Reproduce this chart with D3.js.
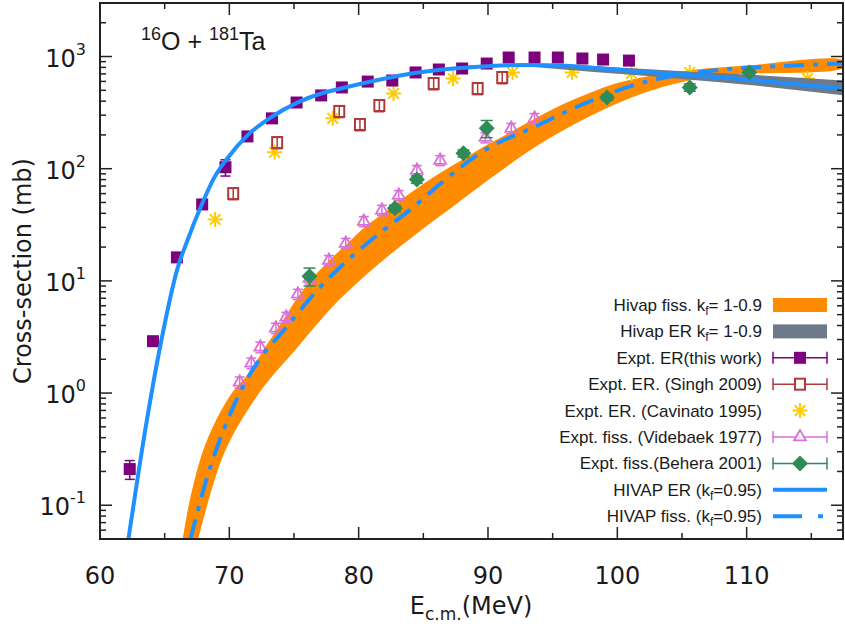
<!DOCTYPE html>
<html lang="en">
<head>
<meta charset="UTF-8">
<title>16O + 181Ta cross-sections</title>
<script src="https://d3js.org/d3.v7.min.js"></script>
<style>
    body, html { margin: 0; padding: 0; background: #fff; }
    text { font-family: "DejaVu Sans", sans-serif; fill: #1a1a1a; }
    .legend text, .title text { font-family: "Liberation Sans", Arial, sans-serif; }
</style>
</head>
<body>
<div id="chart"></div>
<script>

// ---- data (E_cm in MeV, cross-section in mb) ----
const xTicks = [60, 70, 80, 90, 100, 110]
const yTicks = [0.1, 1, 10, 100, 1000]

// Expt. ER (this work)
const erX = [62.3, 64.1, 65.95, 67.9, 69.7, 71.4, 73.3, 75.2, 77.1, 78.7, 80.7, 82.6, 84.4, 86.2, 88.0, 89.9, 91.6, 93.6, 95.4, 97.3, 98.9, 100.9]
const erY = [0.21, 2.9, 16.2, 48, 103, 194, 281, 389, 450, 530, 598, 611, 721, 766, 782, 866, 980, 980, 980, 960, 940, 920]
const erErr = [0.04, 0.2, 1, 3, 17, 10, 12, 15, 15, 18, 20, 20, 25, 25, 25, 30, 35, 35, 35, 35, 35, 35]

// Expt. ER. (Singh 2009)
const singhX = [70.3, 73.7, 78.5, 80.1, 81.6, 85.8, 89.2, 91.1]
const singhY = [60, 171, 324, 248, 366, 575, 519, 650]
const singhErr = [7, 20, 38, 30, 44, 70, 62, 78]

// Expt. ER. (Cavinato 1995)
const cavX = [68.9, 73.5, 78.0, 82.7, 87.3, 91.9, 96.5, 101.1, 105.6, 110.2, 114.7]
const cavY = [35.3, 140, 281, 468, 637, 721, 721, 706, 721, 650, 637]

// Expt. fiss. (Videbaek 1977)
const videX = [70.8, 71.7, 72.4, 73.6, 74.4, 75.3, 76.2, 77.7, 79.0, 80.4, 81.8, 83.1, 84.5, 86.3, 89.8, 91.8, 93.6]
const videY = [1.25, 1.85, 2.56, 3.79, 4.74, 7.6, 10.5, 15.2, 21.6, 33.9, 42.6, 57.8, 96.6, 118.6, 190, 229, 281]
const videErr = [0.14, 0.2, 0.28, 0.4, 0.5, 0.8, 1.1, 1.6, 2.3, 3.5, 4.5, 6, 10, 12, 20, 24, 29]

// Expt. fiss. (Behera 2001)
const behX = [76.2, 82.8, 84.5, 88.1, 89.9, 99.2, 105.6, 110.2]
const behY = [11.0, 44.3, 80, 137, 229, 432, 530, 721]
const behErr = [2.0, 3, 6, 10, 40, 25, 40, 40]

// HIVAP ER (kf = 0.95)
const hivErX = [62.2, 63.5, 64.7, 66.0, 66.7, 68.0, 68.8, 69.9, 71.4, 73.2, 75.3, 77.1, 78.0, 80.6, 83.2, 85.8, 88.4, 91.0, 93.4, 95.6, 97.1, 100.8, 104.9, 110.0, 113.0, 117.5]
const hivErY = [0.05, 0.47, 2.78, 13, 22, 52, 82, 126, 198, 286, 390, 468, 498, 587, 678, 750, 798, 832, 840, 832, 810, 750, 690, 624, 580, 515]

// HIVAP fiss. (kf = 0.95)
const hivFisX = [67.0, 68.3, 69.5, 70.8, 72.6, 74.0, 77.1, 79.6, 82.2, 84.2, 86.1, 89.9, 93.5, 97.1, 102.0, 107.4, 113.6, 117.5]
const hivFisY = [0.05, 0.18, 0.45, 1.0, 2.2, 3.4, 9, 17, 30, 45, 70, 150, 233, 366, 587, 750, 832, 866]

// Hivap ER band kf = 1-0.9
const erBandX = [88, 92, 95.6, 100.8, 105.4, 110, 117.5]
const erBandLo = [790, 825, 770, 690, 625, 560, 450]
const erBandHi = [825, 860, 850, 790, 735, 690, 610]

// Hivap fiss. band kf = 1-0.9 (upper and lower edges)
const fisHiX = [66.4, 66.9, 67.9, 68.8, 70.2, 71.5, 72.7, 74.0, 75.3, 76.5, 77.8, 79.2, 80.6, 81.8, 83.2, 84.6, 86.2, 88.0, 90.0, 92.0, 94.0, 96.0, 98.0, 100.0, 102.5, 105.4, 110.0, 117.5]
const fisHiY = [0.05, 0.105, 0.29, 0.52, 1.0, 1.5, 2.5, 4.2, 7.2, 10.8, 15.5, 22, 31, 39, 52, 68, 90, 120, 165, 220, 295, 385, 480, 580, 670, 750, 832, 920]
const fisLoX = [67.6, 69.6, 72.3, 75.2, 78.4, 81.5, 84.6, 87.2, 90.2, 93.8, 97.8, 102.2, 107.5, 117.5]
const fisLoY = [0.05, 0.29, 1.0, 2.5, 6.6, 14, 27, 45, 82, 160, 290, 480, 670, 798]

const legendLabels = [
    [["Hivap fiss. k", 0], ["f", 1], ["= 1-0.9", 0]],
    [["Hivap ER k", 0], ["f", 1], ["= 1-0.9", 0]],
    [["Expt. ER(this work)", 0]],
    [["Expt. ER. (Singh 2009)", 0]],
    [["Expt. ER. (Cavinato 1995)", 0]],
    [["Expt. fiss. (Videbaek 1977)", 0]],
    [["Expt. fiss.(Behera 2001)", 0]],
    [["HIVAP ER (k", 0], ["f", 1], ["=0.95)", 0]],
    [["HIVAP fiss. (k", 0], ["f", 1], ["=0.95)", 0]]
]

// ---- colours ----
const cOrange = "#ff8c00", cGrey = "#6c7a89", cPurple = "#7d007d", cBrown = "#b03a3a",
    cGold = "#ffcc00", cOrchid = "#da70d6", cGreen = "#2e8b57", cBlue = "#1e90ff"

const width = 845, height = 635
const plot = { left: 100, right: 843, top: 3, bottom: 539 }

const svg = d3.select("#chart").append("svg")
    .attr("width", width).attr("height", height)

const x = d3.scaleLinear().domain([60, 117.45]).range([plot.left, plot.right])
const y = d3.scaleLog().domain([0.05, 3000]).range([plot.bottom, plot.top])

svg.append("clipPath").attr("id", "clip")
    .append("rect")
    .attr("x", plot.left).attr("y", plot.top)
    .attr("width", plot.right - plot.left).attr("height", plot.bottom - plot.top)

const zip = (xs, ys) => xs.map((v, i) => [v, ys[i]])
const line = d3.line().x(d => x(d[0])).y(d => y(d[1]))
const smooth = d3.line().x(d => x(d[0])).y(d => y(d[1])).curve(d3.curveMonotoneX)

const g = svg.append("g").attr("clip-path", "url(#clip)")

// orange fission band: upper edge forward, lower edge back
const fisPoly = zip(fisHiX, fisHiY).concat(zip(fisLoX, fisLoY).reverse())
g.append("path")
    .attr("d", line.curve(d3.curveCatmullRom)(fisPoly) + "Z")
    .attr("fill", cOrange)

// asterisks (drawn below the grey band)
const star = r => {
    const a = r * Math.SQRT1_2
    return `M${-r},0L${r},0M0,${-r}L0,${r}M${-a},${-a}L${a},${a}M${-a},${a}L${a},${-a}`
}
g.selectAll(".cav").data(zip(cavX, cavY)).join("path")
    .attr("class", "cav")
    .attr("transform", d => `translate(${x(d[0])},${y(d[1])})`)
    .attr("d", star(7.5))
    .attr("stroke", cGold).attr("stroke-width", 2).attr("fill", "none")

// grey ER band
const erArea = d3.area()
    .x(d => x(d[0])).y0(d => y(d[1])).y1(d => y(d[2]))
    .curve(d3.curveMonotoneX)
g.append("path")
    .datum(erBandX.map((v, i) => [v, erBandLo[i], erBandHi[i]]))
    .attr("d", erArea)
    .attr("fill", cGrey)

// vertical error bars helper
function errorBars(sel, cls, xs, ys, errs, color, cap) {
    const data = xs.map((v, i) => ({ x: v, y: ys[i], e: errs[i] }))
    const eb = sel.selectAll("." + cls).data(data).join("g").attr("class", cls)
        .attr("stroke", color).attr("stroke-width", 1.5).attr("fill", "none")
    eb.append("line")
        .attr("x1", d => x(d.x)).attr("x2", d => x(d.x))
        .attr("y1", d => y(d.y - d.e)).attr("y2", d => y(d.y + d.e))
    eb.append("line")
        .attr("x1", d => x(d.x) - cap).attr("x2", d => x(d.x) + cap)
        .attr("y1", d => y(d.y - d.e)).attr("y2", d => y(d.y - d.e))
    eb.append("line")
        .attr("x1", d => x(d.x) - cap).attr("x2", d => x(d.x) + cap)
        .attr("y1", d => y(d.y + d.e)).attr("y2", d => y(d.y + d.e))
}

// this work
errorBars(g, "erbar", erX, erY, erErr, cPurple, 5)
g.selectAll(".er").data(zip(erX, erY)).join("rect")
    .attr("class", "er")
    .attr("x", d => x(d[0]) - 6).attr("y", d => y(d[1]) - 6)
    .attr("width", 12).attr("height", 12)
    .attr("fill", cPurple)

// Singh
errorBars(g, "sbar", singhX, singhY, singhErr, cBrown, 5)
g.selectAll(".singh").data(zip(singhX, singhY)).join("rect")
    .attr("class", "singh")
    .attr("x", d => x(d[0]) - 5).attr("y", d => y(d[1]) - 5.5)
    .attr("width", 10).attr("height", 11)
    .attr("fill", "none").attr("stroke", cBrown).attr("stroke-width", 2)

// Videbaek
const tri = d3.symbol(d3.symbolTriangle, 62)
errorBars(g, "vbar", videX, videY, videErr, cOrchid, 5)
g.selectAll(".vide").data(zip(videX, videY)).join("path")
    .attr("class", "vide")
    .attr("transform", d => `translate(${x(d[0])},${y(d[1])})`)
    .attr("d", tri)
    .attr("fill", "none").attr("stroke", cOrchid).attr("stroke-width", 1.8)

// HIVAP lines
g.append("path")
    .attr("d", smooth(zip(hivErX, hivErY)))
    .attr("fill", "none").attr("stroke", cBlue).attr("stroke-width", 4)
    .attr("stroke-linejoin", "round")

g.append("path")
    .attr("d", smooth(zip(hivFisX, hivFisY)))
    .attr("fill", "none").attr("stroke", cBlue).attr("stroke-width", 4)
    .attr("stroke-dasharray", "20,9,5,9")

// Behera
const diamond = r => `M0,${-r}L${r},0L0,${r}L${-r},0Z`
errorBars(g, "bbar", behX, behY, behErr, cGreen, 6)
g.selectAll(".beh").data(zip(behX, behY)).join("path")
    .attr("class", "beh")
    .attr("transform", d => `translate(${x(d[0])},${y(d[1])})`)
    .attr("d", diamond(8))
    .attr("fill", cGreen)

// ---- frame and ticks ----
const axes = svg.append("g").attr("stroke", "#222").attr("stroke-width", 1.5)
const xMinor = d3.range(60, 118, 5)
xMinor.forEach(v => {
    const len = xTicks.includes(v) ? 12 : 6
    axes.append("line").attr("x1", x(v)).attr("x2", x(v))
        .attr("y1", plot.bottom).attr("y2", plot.bottom - len)
    axes.append("line").attr("x1", x(v)).attr("x2", x(v))
        .attr("y1", plot.top).attr("y2", plot.top + len)
})
y.ticks().forEach(v => {
    const major = Math.abs(Math.log10(v) - Math.round(Math.log10(v))) < 1e-9
    const len = major ? 12 : 6
    axes.append("line").attr("x1", plot.left).attr("x2", plot.left + len)
        .attr("y1", y(v)).attr("y2", y(v))
    axes.append("line").attr("x1", plot.right).attr("x2", plot.right - len)
        .attr("y1", y(v)).attr("y2", y(v))
})
axes.append("rect")
    .attr("x", plot.left).attr("y", plot.top)
    .attr("width", plot.right - plot.left).attr("height", plot.bottom - plot.top)
    .attr("fill", "none").attr("stroke-width", 2)

// tick labels
svg.append("g").selectAll("text").data(xTicks).join("text")
    .attr("x", d => x(d)).attr("y", 584)
    .attr("text-anchor", "middle")
    .style("font-size", "24px")
    .text(d => d)

const yl = svg.append("g").selectAll("text").data(yTicks).join("text")
    .attr("x", 86).attr("y", d => y(d) + 10)
    .attr("text-anchor", "end")
    .style("font-size", "24px")
yl.append("tspan").text("10")
yl.append("tspan").attr("dy", -12).style("font-size", "16px")
    .text(d => Math.round(Math.log10(d)))

// axis titles
svg.append("text")
    .attr("transform", "translate(31,271) rotate(-90)")
    .attr("text-anchor", "middle")
    .style("font-size", "24px")
    .text("Cross-section (mb)")

const xt = svg.append("text")
    .attr("x", 471).attr("y", 614)
    .attr("text-anchor", "middle")
    .style("font-size", "24px")
xt.append("tspan").text("E")
xt.append("tspan").attr("dy", 6).style("font-size", "17px").text("c.m.")
xt.append("tspan").attr("dy", -6).text("(MeV)")

// reaction title
const tt = svg.append("g").attr("class", "title").append("text")
    .attr("x", 141).attr("y", 50).style("font-size", "25px")
tt.append("tspan").attr("dy", -10).style("font-size", "18px").text("16")
tt.append("tspan").attr("dy", 10).text("O + ")
tt.append("tspan").attr("dy", -10).style("font-size", "18px").text("181")
tt.append("tspan").attr("dy", 10).text("Ta")

// ---- legend ----
const leg = svg.append("g").attr("class", "legend")
const rowY = i => 305 + i * 26.4
const sx0 = 773, sx1 = 827, sxm = 800

legendLabels.forEach((parts, i) => {
    const t = leg.append("text")
        .attr("x", 762).attr("y", rowY(i) + 6)
        .attr("text-anchor", "end")
        .style("font-size", "17px")
    parts.forEach(p => {
        if (p[1]) {
            t.append("tspan").attr("dy", 4).style("font-size", "12px").text(p[0])
        } else {
            const s = t.append("tspan").text(p[0])
            if (t.selectAll("tspan").size() > 1) s.attr("dy", -4)
        }
    })
})

const hbar = (i, color) => {
    const gg = leg.append("g").attr("stroke", color).attr("stroke-width", 1.5)
    gg.append("line").attr("x1", sx0).attr("x2", sx1).attr("y1", rowY(i)).attr("y2", rowY(i))
    gg.append("line").attr("x1", sx0).attr("x2", sx0).attr("y1", rowY(i) - 6).attr("y2", rowY(i) + 6)
    gg.append("line").attr("x1", sx1).attr("x2", sx1).attr("y1", rowY(i) - 6).attr("y2", rowY(i) + 6)
}

leg.append("rect").attr("x", sx0).attr("y", rowY(0) - 7).attr("width", sx1 - sx0).attr("height", 14).attr("fill", cOrange)
leg.append("rect").attr("x", sx0).attr("y", rowY(1) - 7).attr("width", sx1 - sx0).attr("height", 14).attr("fill", cGrey)

hbar(2, cPurple)
leg.append("rect").attr("x", sxm - 6).attr("y", rowY(2) - 6).attr("width", 12).attr("height", 12).attr("fill", cPurple)

hbar(3, cBrown)
leg.append("rect").attr("x", sxm - 5).attr("y", rowY(3) - 5.5).attr("width", 10).attr("height", 11)
    .attr("fill", "#fff").attr("stroke", cBrown).attr("stroke-width", 2)

leg.append("path").attr("transform", `translate(${sxm},${rowY(4)})`).attr("d", star(7.5))
    .attr("stroke", cGold).attr("stroke-width", 2).attr("fill", "none")

hbar(5, cOrchid)
leg.append("path").attr("transform", `translate(${sxm},${rowY(5)})`).attr("d", tri)
    .attr("fill", "#fff").attr("stroke", cOrchid).attr("stroke-width", 1.8)

hbar(6, cGreen)
leg.append("path").attr("transform", `translate(${sxm},${rowY(6)})`).attr("d", diamond(8))
    .attr("fill", cGreen)

leg.append("line").attr("x1", sx0).attr("x2", sx1).attr("y1", rowY(7)).attr("y2", rowY(7))
    .attr("stroke", cBlue).attr("stroke-width", 4)
leg.append("line").attr("x1", sx0).attr("x2", sx1).attr("y1", rowY(8)).attr("y2", rowY(8))
    .attr("stroke", cBlue).attr("stroke-width", 4).attr("stroke-dasharray", "29,16,5,30")

</script>
</body>
</html>
